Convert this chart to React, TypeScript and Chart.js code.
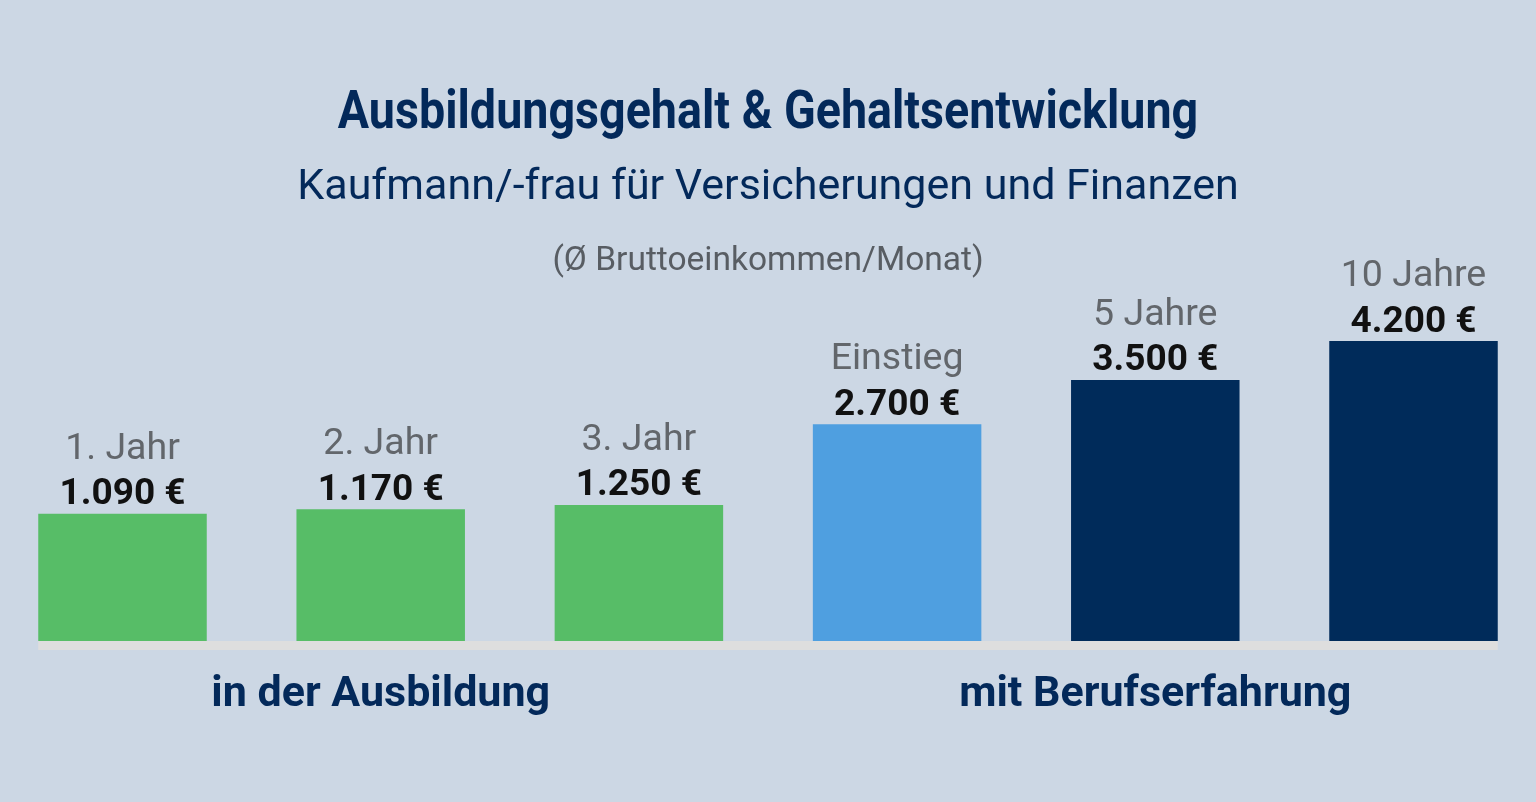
import React, { useEffect, useRef } from "react";
import { Chart, registerables } from "chart.js";

Chart.register(...registerables);

const categories = ["1. Jahr", "2. Jahr", "3. Jahr", "Einstieg", "5 Jahre", "10 Jahre"];
const salaries = [1090, 1170, 1250, 2700, 3500, 4200];
const groupLabels = ["", "in der Ausbildung", "", "", "mit Berufserfahrung", ""];
const barColors = ["#57bd67", "#57bd67", "#57bd67", "#4f9fe0", "#002b5a", "#002b5a"];
const titleText = "Ausbildungsgehalt & Gehaltsentwicklung";
const subtitleText = "Kaufmann/-frau für Versicherungen und Finanzen";
const noteText = "(Ø Bruttoeinkommen/Monat)";
const Y_MIN = -1200;
const Y_MAX = 6000;

const BG = "#ccd7e4";
const NAVY = "#03295a";
const FONT = "Roboto, 'Noto Sans', sans-serif";

const formatEuro = (v: number) =>
  String(v).replace(/\B(?=(\d{3})+(?!\d))/g, ".") + " €";

const decorPlugin = {
  id: "decor",
  beforeDraw(chart: any) {
    const { ctx, width, height } = chart;
    ctx.save();
    ctx.fillStyle = BG;
    ctx.fillRect(0, 0, width, height);
    // condensed bold headline
    ctx.translate(width / 2, 127.5);
    ctx.scale(0.88, 1);
    ctx.font = `bold 53px ${FONT}`;
    ctx.fillStyle = NAVY;
    ctx.textAlign = "center";
    ctx.textBaseline = "alphabetic";
    ctx.fillText(titleText, 0, 0);
    ctx.restore();
  },
  beforeDatasetsDraw(chart: any) {
    const { ctx, chartArea } = chart;
    const bars = chart.getDatasetMeta(0).data;
    if (!bars.length) return;
    const first = bars[0];
    const last = bars[bars.length - 1];
    const x0 = first.x - first.width / 2;
    const x1 = last.x + last.width / 2;
    ctx.save();
    ctx.fillStyle = "#dedede";
    ctx.fillRect(x0, chartArea.bottom, x1 - x0, 9);
    ctx.restore();
  },
  afterDatasetsDraw(chart: any) {
    const { ctx, chartArea, width } = chart;
    const bars = chart.getDatasetMeta(0).data;
    ctx.save();
    ctx.textAlign = "center";
    ctx.textBaseline = "alphabetic";
    bars.forEach((bar: any, i: number) => {
      ctx.font = `bold 37px ${FONT}`;
      ctx.fillStyle = "#111111";
      ctx.fillText(formatEuro(salaries[i]), bar.x, bar.y - 9.5);
      ctx.font = `37.5px ${FONT}`;
      ctx.fillStyle = "#62666b";
      ctx.fillText(categories[i], bar.x, bar.y - 55);
    });
    ctx.font = `33.5px ${FONT}`;
    ctx.fillStyle = "#585d63";
    ctx.fillText(noteText, width / 2, chartArea.top + 29);
    ctx.restore();
  },
};

export default function App() {
  const canvasRef = useRef<HTMLCanvasElement | null>(null);

  useEffect(() => {
    document.body.style.margin = "0";
    const canvas = canvasRef.current;
    if (!canvas) return;
    const chart = new Chart(canvas, {
      type: "bar",
      data: {
        labels: categories,
        datasets: [
          {
            data: salaries,
            backgroundColor: barColors,
            borderWidth: 0,
            base: Y_MIN,
            categoryPercentage: 1,
            barPercentage: 0.6526,
            clip: false as any,
          } as any,
        ],
      },
      options: {
        animation: false,
        responsive: true,
        maintainAspectRatio: false,
        layout: { padding: { top: 0, left: 122.5, right: 122.5, bottom: 53.4 } },
        plugins: {
          legend: { display: false },
          tooltip: { enabled: false },
          title: { display: false },
          subtitle: {
            display: true,
            text: subtitleText,
            color: NAVY,
            font: { family: FONT, size: 43, weight: "normal", lineHeight: 1.2 },
            padding: { top: 162.7, bottom: 26.7 },
          },
        },
        scales: {
          x: {
            type: "category",
            offset: false,
            grid: { display: false, drawTicks: false },
            border: { display: false },
            ticks: {
              autoSkip: false,
              maxRotation: 0,
              minRotation: 0,
              padding: 28,
              color: NAVY,
              font: { family: FONT, size: 43, weight: "bold", lineHeight: 1.2 },
              callback: (_v: any, i: number) => groupLabels[i],
            },
          },
          y: {
            display: false,
            min: Y_MIN,
            max: Y_MAX,
          },
        },
      },
      plugins: [decorPlugin],
    });
    return () => chart.destroy();
  }, []);

  return (
    <div style={{ width: 1536, height: 802, position: "relative", background: BG }}>
      <canvas ref={canvasRef} />
    </div>
  );
}
